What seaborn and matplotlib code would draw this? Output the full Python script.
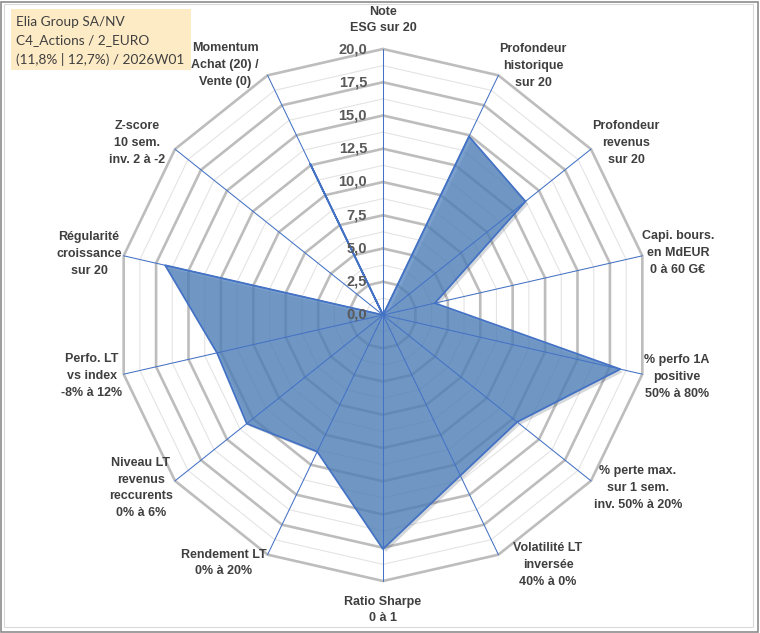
import numpy as np
import pandas as pd
import matplotlib
matplotlib.use("Agg")
import matplotlib.pyplot as plt
import matplotlib.patheffects as pe
from matplotlib.patches import Rectangle
from matplotlib.transforms import offset_copy
import seaborn as sns

# ---------------- data ----------------
categories = [
    "Note\nESG sur 20",
    "Profondeur\nhistorique\nsur 20",
    "Profondeur\nrevenus\nsur 20",
    "Capi. bours.\nen MdEUR\n0 à 60 G€",
    "% perfo 1A\npositive\n50% à 80%",
    "% perte max.\nsur 1 sem.\ninv. 50% à 20%",
    "Volatilité LT\ninversée\n40% à 0%",
    "Ratio Sharpe\n0 à 1",
    "Rendement LT\n0% à 20%",
    "Niveau LT\nrevenus\nreccurents\n0% à 6%",
    "Perfo. LT\nvs index\n-8% à 12%",
    "Régularité\ncroissance\nsur 20",
    "Z-score\n10 sem.\ninv. 2 à -2",
    "Momentum\nAchat (20) /\nVente (0)",
]
scores = [0.0, 14.9, 13.7, 4.0, 18.3, 12.9, 13.4, 17.6, 11.4, 13.1, 12.8, 16.8, 0.0, 12.6]
radial_ticks = [0.0, 2.5, 5.0, 7.5, 10.0, 12.5, 15.0, 17.5, 20.0]
radial_tick_labels = ["0,0", "2,5", "5,0", "7,5", "10,0", "12,5", "15,0", "17,5", "20,0"]
title_lines = ["Elia Group SA/NV", "C4_Actions / 2_EURO", "(11,8% | 12,7%) / 2026W01"]

# ---------------- layout (pixels, relative to chart centre) ----------------
label_offsets_px = [
    (0, -295), (150, -249), (243, -172), (295, -62), (294, 62), (255, 173),
    (165, 250), (0, 295), (-159, 248), (-242, 173), (-291, 61), (-294, -61),
    (-246, -172), (-158, -250),
]

W, H = 760, 633
CX, CY, R = 383, 315, 266
RMAX = 20.0

sns.set_style("white")
plt.rcParams["font.family"] = ["Liberation Sans", "DejaVu Sans"]

fig = plt.figure(figsize=(W / 100, H / 100), dpi=100)
ax = fig.add_axes([(CX - R) / W, (H - CY - R) / H, 2 * R / W, 2 * R / H],
                  projection="polar")
ax.set_theta_zero_location("N")
ax.set_theta_direction(-1)
ax.set_ylim(0, RMAX)
ax.set_xticks([])
ax.set_yticks([])
ax.grid(False)
ax.spines["polar"].set_visible(False)
ax.patch.set_alpha(0)

n = len(categories)
theta = np.linspace(0, 2 * np.pi, n, endpoint=False)
theta_closed = np.append(theta, theta[0])

# polygon grid
levels = np.arange(1.25, RMAX + 0.001, 1.25)
for lv in levels:
    major = abs((lv / 2.5) - round(lv / 2.5)) < 1e-9
    ax.plot(theta_closed, np.full_like(theta_closed, lv),
            color="#BDBDBD" if major else "#E4E4E4",
            lw=1.9 if major else 0.8, zorder=1, clip_on=False,
            solid_joinstyle="miter")

# data polygon
df = pd.DataFrame({"theta": theta_closed, "score": scores + [scores[0]]})
fill = ax.fill(df["theta"], df["score"], color="#4F81BD", alpha=0.75, lw=0, zorder=2)
for p in fill:
    p.set_path_effects([pe.SimplePatchShadow(offset=(2, -2), alpha=0.18), pe.Normal()])
sns.lineplot(data=df, x="theta", y="score", sort=False, ax=ax,
             color="#4472C4", lw=1.3, zorder=3, estimator=None)
ax.set_xlabel("")
ax.set_ylabel("")

# spokes
for t in theta:
    ax.plot([t, t], [0, RMAX], color="#4472C4", lw=0.75, zorder=4, clip_on=False)

# radial tick labels
tr = offset_copy(ax.transData, fig=fig, x=-16, y=0, units="dots")
for v, s in zip(radial_ticks, radial_tick_labels):
    ax.text(0, v, s, transform=tr, ha="right", va="center", fontsize=10.5,
            fontweight="bold", color="#595959", zorder=5)

# category labels
px_per_unit = R / RMAX
for lab, (dx, dy) in zip(categories, label_offsets_px):
    t = np.arctan2(dx, -dy)
    r = np.hypot(dx, dy) / px_per_unit
    ax.text(t, r, lab, ha="center", va="center", fontsize=9, fontweight="bold",
            color="#3F3F3F", linespacing=1.55, multialignment="center")

# title box
fig.patches.append(Rectangle((11 / W, 1 - 70 / H), 180 / W, 61 / H,
                             transform=fig.transFigure, facecolor="#FDEBC6",
                             edgecolor="none", zorder=0))
for i, line in enumerate(title_lines):
    fig.text(16 / W, 1 - (22 + 18.5 * i) / H, line, ha="left", va="center",
             fontsize=9.8, color="#404040", family=["Lato", "DejaVu Sans"])

# frame
fig.patches.append(Rectangle((1 / W, 1 / H), (W - 3) / W, (H - 3) / H,
                             transform=fig.transFigure, fill=False,
                             edgecolor="#8C8C8C", lw=1.2))
fig.patches.append(Rectangle((4 / W, 6 / H), (W - 11) / W, (H - 10) / H,
                             transform=fig.transFigure, fill=False,
                             edgecolor="#DADADA", lw=0.8))

fig.savefig("out.png", dpi=100)
